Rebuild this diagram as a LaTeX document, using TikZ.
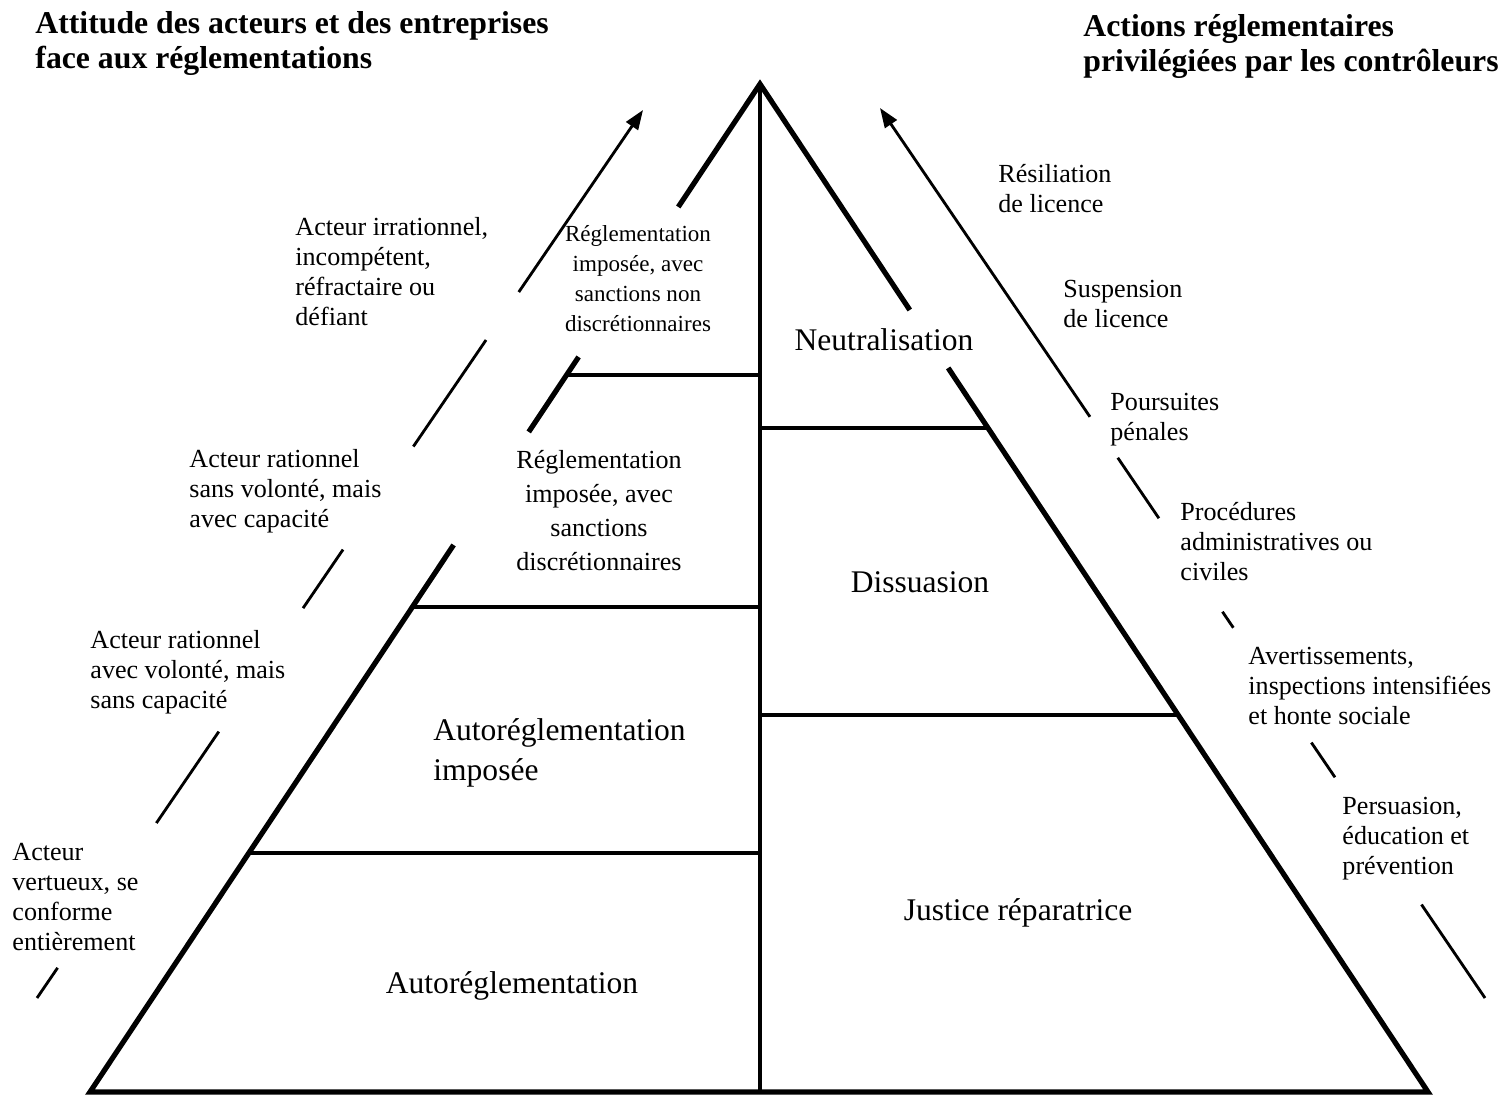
\documentclass[tikz,border=0pt]{standalone}
\usepackage{fontspec}
\setmainfont{Liberation Serif}
\usetikzlibrary{arrows.meta,calc}

\tikzset{
  rim/.style={line width=2.4pt},
  tier/.style={line width=1.5pt},
  trend/.style={line width=1.3pt},
  trendtip/.style={-{Triangle[length=9pt,width=6.5pt]}},
  actor/.style={inner sep=0pt, anchor=north west, align=left, font=\fontsize{12}{13.8}\selectfont},
  stage/.style={inner sep=0pt, anchor=base, font=\fontsize{14.5}{18.4}\selectfont},
  heading/.style={inner sep=0pt, anchor=north west, align=left, font=\fontsize{14.6}{16.1}\selectfont\bfseries},
}

\begin{document}
\begin{tikzpicture}[x=0.46pt, y=-0.46pt]
\useasboundingbox (0,0) rectangle (1505,1096);

\coordinate (apex) at (760,84);
\coordinate (bl) at (90,1092);
\coordinate (br) at (1428,1092);
\coordinate (bm) at (760,1092);

% cloisons
\draw[tier] (apex) -- (bm);
\foreach \t in {0.2887,0.5188,0.7629}
  \draw[tier] ($(apex)!\t!(bl)$) -- ($(apex)!\t!(bm)$);
\foreach \t in {0.3413,0.626}
  \draw[tier] ($(apex)!\t!(bm)$) -- ($(apex)!\t!(br)$);

% pyramide
\draw[rim] ($(apex)!0.122!(bl)$) -- (apex) -- ($(apex)!0.2242!(br)$);
\draw[rim] ($(apex)!0.2708!(bl)$) -- ($(apex)!0.3452!(bl)$);
\draw[rim] ($(apex)!0.4573!(bl)$) -- (bl) -- (br) -- ($(apex)!0.2817!(br)$);

% fleches
\coordinate (la0) at (37,998);
\coordinate (la1) at (643,110);
\coordinate (ra0) at (1485,998);
\coordinate (ra1) at (880,108);
\foreach \a/\b in {0/0.034, 0.197/0.300, 0.439/0.505, 0.621/0.741}
  \draw[trend] ($(la0)!\a!(la1)$) -- ($(la0)!\b!(la1)$);
\draw[trend, trendtip] ($(la0)!0.795!(la1)$) -- (la1);
\foreach \a/\b in {0/0.105, 0.248/0.287, 0.416/0.434, 0.539/0.607}
  \draw[trend] ($(ra0)!\a!(ra1)$) -- ($(ra0)!\b!(ra1)$);
\draw[trend, trendtip] ($(ra0)!0.653!(ra1)$) -- (ra1);

% titres
\node[heading] (ttlL) at (35,11) {Attitude des acteurs et des entreprises\\face aux réglementations};
\node[heading] (ttlR) at (1083,14) {Actions réglementaires\\privilégiées par les contrôleurs};

% attitudes
\node[actor] (irr) at (295,217) {Acteur irrationnel,\\incompétent,\\réfractaire ou\\défiant};
\node[actor] (rsv) at (189,449) {Acteur rationnel\\sans volonté, mais\\avec capacité};
\node[actor] (rav) at (90,630) {Acteur rationnel\\avec volonté, mais\\sans capacité};
\node[actor] (vert) at (12,843) {Acteur\\vertueux, se\\conforme\\entièrement};

% actions
\node[actor] (resil) at (998,164) {Résiliation\\de licence};
\node[actor] (susp) at (1063,280) {Suspension\\de licence};
\node[actor] (pours) at (1110,393) {Poursuites\\pénales};
\node[actor] (proc) at (1180,502) {Procédures\\administratives ou\\civiles};
\node[actor] (avert) at (1248,647) {Avertissements,\\inspections intensifiées\\et honte sociale};
\node[actor] (pers) at (1342,797) {Persuasion,\\éducation et\\prévention};

% etages
\node[inner sep=0pt, anchor=north, align=center, font=\fontsize{10.6}{13.8}\selectfont] (rnd) at (638,225)
  {Réglementation\\imposée, avec\\sanctions non\\discrétionnaires};
\node[inner sep=0pt, anchor=north, align=center, font=\fontsize{12}{15.6}\selectfont] (rd) at (599,450)
  {Réglementation\\imposée, avec\\sanctions\\discrétionnaires};
\node[stage, anchor=north west, align=left] (ari) at (433,718) {Autoréglementation\\imposée};
\node[stage] (ar) at (512,993) {Autoréglementation};
\node[stage] (neut) at (884,351) {Neutralisation};
\node[stage] (diss) at (920,592) {Dissuasion};
\node[stage] (jr) at (1018,920) {Justice réparatrice};
\end{tikzpicture}
\end{document}
